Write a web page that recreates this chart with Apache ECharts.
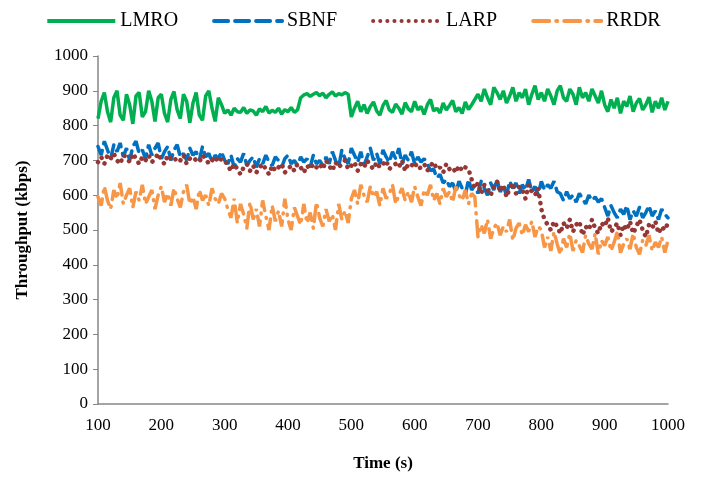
<!DOCTYPE html>
<html>
<head>
<meta charset="utf-8">
<script src="https://cdn.jsdelivr.net/npm/echarts@6/dist/echarts.min.js"></script>
<style>
  html, body { margin: 0; padding: 0; background: #fff; }
  #chart { width: 706px; height: 477px; }
</style>
</head>
<body>
<div id="chart"></div>
<script>
// time axis: one sample every 5 s, from 100 to 1000
const timeStart = 100
const timeStep = 5

const lmro = [
  820, 870, 895, 840, 810, 880, 900, 830, 815, 890, 860, 805, 885, 895, 825, 840, 900, 870, 812, 880,
  890, 835, 810, 875, 898, 845, 820, 890, 870, 808, 865, 895, 830, 815, 885, 900, 850, 812, 880, 860,
  835, 845, 830, 850, 840, 838, 852, 835, 845, 842, 830, 848, 840, 855, 836, 844, 838, 850, 833, 846, 840, 852, 838, 845,
  880, 888, 892, 884, 890, 895, 886, 893, 880, 890, 897, 885, 892, 888, 895, 890,
  825, 850, 870, 840, 860, 835, 855, 868, 842, 830, 858, 872, 845, 838, 862, 850, 833, 866, 848, 840,
  870, 845, 855, 832, 860, 875, 842, 850, 836, 865, 845, 858, 872, 840, 852, 835, 868, 846, 860, 875,
  890, 870, 905, 880, 860, 910, 895, 875, 900, 865, 885, 910, 870, 895, 880, 905, 860, 890, 915, 875,
  895, 870, 905, 885, 860, 900, 915, 880, 870, 905, 890, 860, 910, 880, 895, 870, 905, 885, 865, 900,
  860, 840, 875, 850, 880, 835, 870, 855, 885, 840, 865, 878, 845, 860, 882, 838, 870, 850, 880, 845, 870
]

const sbnf = [
  740, 715, 755, 730, 705, 745, 725, 750, 710, 735, 700, 740, 755, 720, 730, 705, 745, 715, 735, 750,
  705, 725, 740, 700, 730, 745, 710, 720, 700, 735, 715, 725, 700, 740, 710, 720, 695, 715, 705, 725, 700,
  690, 715, 680, 705, 695, 720, 685, 700, 710, 680, 705, 690, 715, 695, 685, 710, 700, 680, 705, 715,
  690, 700, 685, 710, 695, 705, 680, 715, 690, 700, 685,
  710, 690, 725, 700, 680, 730, 705, 690, 735, 715, 695, 725, 685, 710, 735, 700, 720, 690, 730, 710,
  695, 725, 705, 735, 690, 715, 700, 725, 690, 710, 695, 705,
  690, 670, 675, 650, 660, 635, 645, 625,
  635, 610, 640, 620, 600, 645, 615, 630, 605, 640, 620, 600, 635, 615, 645, 610, 625, 600, 640, 620,
  635, 605, 630, 615, 645, 610, 625, 600, 640, 615, 630, 620, 640, 610,
  605, 585, 610, 590, 600, 580, 605, 590, 575, 600, 585, 595, 580, 590,
  565, 540, 570, 550, 535, 560, 545, 570, 530, 555, 540, 565, 535, 550, 570, 540, 555, 530, 560, 545, 535
]

const larp = [
  695, 710, 690, 715, 705, 720, 700, 690, 715, 710, 695, 720, 705, 690, 710, 700, 715, 695, 705, 720,
  700, 690, 715, 705, 710, 695, 700, 715, 690, 705, 710, 700, 695, 715, 705, 690, 700, 710, 695, 705, 700,
  685, 670, 690, 675, 660, 680, 690, 670, 685, 665, 680, 690, 675, 660, 685, 670, 680, 690, 665, 675,
  685, 670, 690, 680, 665, 685, 675, 690, 680,
  690, 675, 700, 685, 670, 695, 680, 690, 700, 675, 685, 695, 670, 690, 680, 700, 685, 675, 695, 680,
  690, 700, 675, 685, 690, 680, 700, 670, 690, 685, 695, 675, 680, 690, 670, 685, 695, 675, 680, 665,
  690, 675, 680, 665, 685, 670, 680, 675,
  645, 620, 635, 605, 630, 615, 600, 625, 640, 610, 630, 595, 620, 635, 605, 625, 615, 590, 630, 610, 600, 620,
  560, 530, 515, 500, 525, 510, 490, 520, 505, 530, 495, 515, 525, 485, 510, 500, 530, 505, 490, 520,
  510, 535, 495, 505, 520, 485, 515, 500, 525, 490, 510, 530, 500, 480, 515, 505, 525, 490, 510, 500, 520
]

const rrdr = [
  595, 570, 625, 585, 560, 615, 590, 635, 575, 600, 620, 565, 610, 585, 630, 575, 595, 615, 560, 600,
  625, 580, 605, 570, 620, 590, 565, 610, 630, 575, 595, 560, 615, 585, 600, 570, 620, 590, 575, 605, 590,
  560, 535, 590, 520, 575, 545, 505, 580, 530, 560, 510, 585, 540, 500, 570, 525, 555, 510, 590, 530,
  500, 565, 540, 515, 575, 520, 550, 505, 580, 535, 510, 560, 525, 545, 500, 575, 530, 555, 520,
  590, 615, 575, 630, 600, 580, 625, 595, 610, 570, 620, 590, 605, 630, 575, 600, 620, 585, 610, 580,
  625, 595, 570, 615, 600, 630, 585, 605, 575, 620, 595, 610, 580, 625, 600, 585, 615, 575, 605, 595,
  480, 515, 490, 530, 475, 505, 520, 485, 510, 495, 530, 470, 505, 520, 485, 515, 495, 525, 480, 510, 500,
  450, 480, 440, 495, 460, 430, 475, 450, 490, 440, 470, 455, 435, 485, 460, 445, 490, 430, 470, 455,
  480, 440, 465, 495, 435, 460, 475, 445, 490, 450, 430, 470, 455, 485, 440, 465, 450, 480, 435, 470
]

const yTicks = [0, 1000, 100]
const xTicks = [100, 1000, 100]

function pairs (values) {
  return values.map((v, i) => [timeStart + i * timeStep, v])
}

const font = 'Liberation Serif, Times New Roman, serif'
const axisGray = '#868686'

function makeSeries (name, values, color, width, dash) {
  return {
    name: name,
    type: 'line',
    symbol: 'none',
    showSymbol: false,
    data: pairs(values),
    color: color,
    lineStyle: { width: width, color: color, type: dash, cap: dash === 'solid' ? 'butt' : 'round' }
  }
}

const chart = echarts.init(document.getElementById('chart'))
chart.setOption({
  animation: false,
  textStyle: { fontFamily: font },
  legend: {
    top: 6,
    left: 'center',
    itemWidth: 68,
    itemHeight: 14,
    itemGap: 34,
    itemStyle: { opacity: 0 },
    lineStyle: { width: 4 },
    textStyle: { fontFamily: font, fontSize: 20, color: '#000' },
    data: ['LMRO', 'SBNF', 'LARP', 'RRDR']
  },
  grid: {
    left: 98,
    right: 38,
    top: 56,
    bottom: 70
  },
  xAxis: {
    type: 'value',
    min: xTicks[0],
    max: xTicks[1],
    interval: xTicks[2],
    name: 'Time (s)',
    nameLocation: 'middle',
    nameGap: 51,
    nameTextStyle: { fontFamily: font, fontSize: 17, fontWeight: 'bold', color: '#000' },
    axisLine: { lineStyle: { color: axisGray, width: 1.5 } },
    axisTick: { show: false },
    splitLine: { show: false },
    axisLabel: { fontFamily: font, fontSize: 17, color: '#000', margin: 13, formatter: (v) => String(v) }
  },
  yAxis: {
    type: 'value',
    min: yTicks[0],
    max: yTicks[1],
    interval: yTicks[2],
    name: 'Throughput (kbps)',
    nameLocation: 'middle',
    nameGap: 67,
    nameTextStyle: { fontFamily: font, fontSize: 17, fontWeight: 'bold', color: '#000' },
    axisLine: { show: true, lineStyle: { color: axisGray, width: 1.5 } },
    axisTick: { show: true, length: 5, lineStyle: { color: axisGray } },
    splitLine: { show: false },
    axisLabel: { fontFamily: font, fontSize: 17, color: '#000', margin: 10, formatter: (v) => String(v) }
  },
  series: [
    makeSeries('LMRO', lmro, '#00B050', 3.5, 'solid'),
    makeSeries('SBNF', sbnf, '#0070C0', 3.5, [14, 7]),
    makeSeries('LARP', larp, '#953735', 4.5, [0.1, 7]),
    makeSeries('RRDR', rrdr, '#F79646', 3.5, [16, 7, 1, 7])
  ]
})
</script>
</body>
</html>
